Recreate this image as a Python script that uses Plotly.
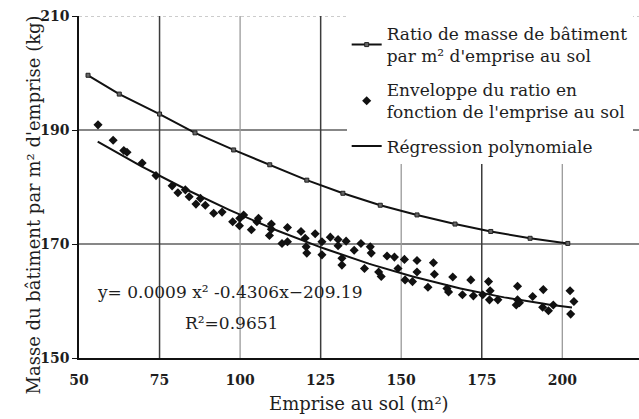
import numpy as np
import plotly.graph_objects as go

# Ratio of building mass per m² of footprint (line + markers)
ratio_x = [52.8, 62.5, 75.0, 86.0, 98.0, 109.2, 120.7, 131.9, 143.5, 154.9,
           166.7, 177.8, 190.0, 201.7]
ratio_y = [199.6, 196.3, 192.8, 189.5, 186.5, 183.9, 181.2, 178.9, 176.8, 175.1,
           173.5, 172.2, 171.0, 170.1]

# Envelope of the ratio as a function of footprint (scatter)
env_x = [55.9, 60.6, 63.9, 64.9, 69.6, 73.9, 78.9, 80.7, 83.0, 84.2,
         86.3, 87.7, 89.2, 91.8, 94.4, 97.7, 99.8, 99.9, 101.1, 103.5,
         105.2, 105.7, 109.1, 109.7, 109.7, 113.0, 114.7, 114.7, 118.9, 120.2,
         120.5, 120.7, 123.3, 125.4, 125.4, 128.0, 130.4, 130.4, 131.6, 131.6,
         132.9, 135.4, 137.5, 138.6, 140.4, 140.7, 143.0, 143.8, 145.6, 147.9,
         149.0, 151.0, 151.2, 153.5, 154.9, 154.9, 158.3, 160.0, 160.3, 164.2,
         164.7, 166.0, 169.0, 171.6, 172.4, 175.3, 177.1, 177.4, 177.6, 180.0,
         186.1, 186.1, 185.7, 186.7, 190.8, 194.1, 193.9, 195.7, 197.2, 202.4,
         203.6, 202.6]
env_y = [190.9, 188.2, 186.4, 186.1, 184.2, 182.0, 180.2, 179.0, 179.5, 178.3,
         177.0, 178.0, 176.8, 175.4, 175.6, 173.9, 173.2, 174.5, 175.1, 172.5,
         173.9, 174.5, 171.5, 173.5, 172.6, 170.1, 170.4, 172.9, 172.2, 171.0,
         169.5, 168.4, 171.8, 170.4, 168.1, 171.2, 170.8, 169.7, 167.5, 166.3,
         170.5, 168.9, 170.1, 165.7, 169.5, 168.4, 165.1, 164.3, 167.9, 167.7,
         165.7, 167.3, 163.7, 163.4, 167.1, 165.1, 162.4, 166.7, 164.7, 162.2,
         161.6, 164.2, 161.1, 163.7, 160.9, 161.1, 163.4, 160.2, 161.8, 160.2,
         162.6, 160.2, 159.3, 159.7, 160.8, 162.0, 158.9, 158.3, 159.3, 161.8,
         159.9, 157.7]

# Polynomial regression coefficients as printed on the chart
poly_a, poly_b, poly_c = 0.0009, -0.4306, 209.19
reg_span = (55.8, 203.0)

x_ticks = [50, 75, 100, 125, 150, 175, 200]
y_ticks = [150, 170, 190, 210]

FONT = "DejaVu Serif"
INK = "#1e1e1e"

reg_x = np.linspace(reg_span[0], reg_span[1], 120)
reg_y = poly_a * reg_x ** 2 + poly_b * reg_x + poly_c

fig = go.Figure()
fig.add_trace(go.Scatter(
    x=ratio_x, y=ratio_y, mode="lines+markers",
    name="Ratio de masse de bâtiment<br>par m² d'emprise au sol",
    line=dict(color="#111111", width=2),
    marker=dict(symbol="square", size=4, color="#666666",
                line=dict(color="#222222", width=1)),
    legendgroup="a",
))
fig.add_trace(go.Scatter(
    x=env_x, y=env_y, mode="markers",
    name="Enveloppe du ratio en<br>fonction de l'emprise au sol",
    marker=dict(symbol="diamond", size=7, color="#111111"),
    legendgroup="b",
))
fig.add_trace(go.Scatter(
    x=reg_x, y=reg_y, mode="lines",
    name="Régression polynomiale",
    line=dict(color="#111111", width=2),
    legendgroup="c",
))

shapes = []
for xv in x_ticks[1:]:
    dark = xv in (75, 125, 175)
    shapes.append(dict(
        type="line", xref="x", yref="y", x0=xv, x1=xv, y0=150, y1=210,
        line=dict(color="#3c3c3c" if dark else "#9a9a9a", width=1.5 if dark else 1.3),
        layer="below",
    ))
for yv in (170, 190):
    shapes.append(dict(
        type="line", xref="paper", yref="y", x0=0, x1=1, y0=yv, y1=yv,
        line=dict(color="#111111", width=1.2), layer="below",
    ))
shapes.append(dict(
    type="line", xref="paper", yref="y", x0=0, x1=1, y0=210, y1=210,
    line=dict(color="#9a9a9a", width=1.2, dash="dot"), layer="below",
))

fig.update_layout(
    width=639, height=419,
    margin=dict(l=79, r=0, t=16, b=61),
    paper_bgcolor="white", plot_bgcolor="white",
    font=dict(family=FONT, size=16, color=INK),
    shapes=shapes,
    showlegend=True,
    legend=dict(
        x=0.478, y=1.0, xanchor="left", yanchor="top",
        bgcolor="white", borderwidth=0,
        font=dict(family=FONT, size=17, color=INK),
        tracegroupgap=9,
    ),
    xaxis=dict(
        range=[50, 223.8], tickvals=x_ticks,
        ticktext=[f"<b>{v}</b>" for v in x_ticks],
        showgrid=False, zeroline=False,
        showline=True, linecolor="#111111", linewidth=1.5,
        ticks="", ticklabelstandoff=8,
        tickfont=dict(family=FONT, size=14, color=INK),
    ),
    yaxis=dict(
        range=[150, 210], tickvals=y_ticks,
        ticktext=[f"<b>{v}</b>" for v in y_ticks],
        showgrid=False, zeroline=False,
        showline=True, linecolor="#111111", linewidth=1.5,
        ticks="outside", ticklen=5, tickcolor="#111111",
        tickfont=dict(family=FONT, size=14, color=INK),
    ),
    annotations=[
        dict(text="Masse du bâtiment par m² d'emprise (kg)", textangle=-90,
             xref="paper", yref="paper", x=0, y=0.5, xshift=-59, yshift=-18,
             showarrow=False, font=dict(family=FONT, size=18, color=INK)),
        dict(text="Emprise au sol (m²)",
             xref="paper", yref="paper", x=0.5, y=0, yshift=-58,
             showarrow=False, font=dict(family=FONT, size=18, color=INK)),
        dict(text="y= 0.0009 x² -0.4306x−209.19",
             xref="x", yref="y", x=55.1, y=161.6, xanchor="left",
             showarrow=False, font=dict(family=FONT, size=17, color=INK)),
        dict(text="R²=0.9651",
             xref="x", yref="y", x=82.4, y=156.1, xanchor="left",
             showarrow=False, font=dict(family=FONT, size=17, color=INK)),
    ],
)

fig.write_html("out.html")
